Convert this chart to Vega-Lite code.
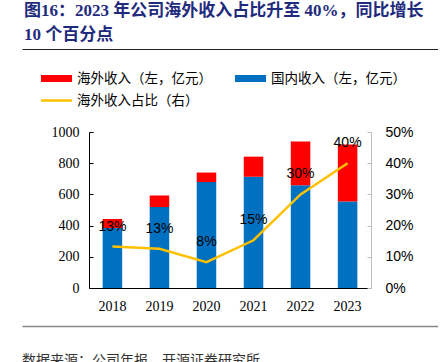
{
  "$schema": "https://vega.github.io/schema/vega-lite/v6.json",
  "padding": {"left": 22, "top": 2, "right": 0, "bottom": 0},
  "background": "#ffffff",
  "config": {"view": {"stroke": null}, "axis": {"grid": false}},
  "datasets": {
    "bars": [
      {"year": "2018", "series": "国内收入（左，亿元）", "value": 385},
      {"year": "2018", "series": "海外收入（左，亿元）", "value": 58},
      {"year": "2019", "series": "国内收入（左，亿元）", "value": 519},
      {"year": "2019", "series": "海外收入（左，亿元）", "value": 74},
      {"year": "2020", "series": "国内收入（左，亿元）", "value": 679},
      {"year": "2020", "series": "海外收入（左，亿元）", "value": 61},
      {"year": "2021", "series": "国内收入（左，亿元）", "value": 713},
      {"year": "2021", "series": "海外收入（左，亿元）", "value": 129},
      {"year": "2022", "series": "国内收入（左，亿元）", "value": 658},
      {"year": "2022", "series": "海外收入（左，亿元）", "value": 281},
      {"year": "2023", "series": "国内收入（左，亿元）", "value": 555},
      {"year": "2023", "series": "海外收入（左，亿元）", "value": 365}
    ],
    "share": [
      {"year": "2018", "share": 0.133},
      {"year": "2019", "share": 0.126},
      {"year": "2020", "share": 0.083},
      {"year": "2021", "share": 0.153},
      {"year": "2022", "share": 0.300},
      {"year": "2023", "share": 0.400}
    ]
  },
  "vconcat": [
    {
      "width": 416,
      "height": 45,
      "title": {
        "text": ["图16：2023 年公司海外收入占比升至 40%，同比增长", "10 个百分点"],
        "anchor": "start",
        "frame": "group",
        "font": "Liberation Serif, Noto Sans CJK SC",
        "fontSize": 17,
        "fontWeight": "bold",
        "color": "#1F2B7D",
        "lineHeight": 24,
        "offset": 5,
        "dx": 2
      },
      "data": {"values": [{"v": 0}]},
      "mark": {"type": "text", "text": ""},
      "encoding": {
        "x": {"field": "v", "type": "quantitative", "scale": {"domain": [0, 1]},
          "axis": {"orient": "top", "labels": false, "ticks": false, "grid": false, "title": null, "domain": true, "domainColor": "#222222", "domainWidth": 1}}
      }
    },
    {
      "width": 282,
      "height": 156,
      "layer": [
        {
          "data": {"name": "bars"},
          "mark": {"type": "bar"},
          "encoding": {
            "x": {"field": "year", "type": "ordinal",
              "scale": {"paddingInner": 0.585, "paddingOuter": 0.29},
              "axis": {"title": null, "labelAngle": 0, "labelFont": "Liberation Serif", "labelFontSize": 14, "labelColor": "#000000", "ticks": false, "domainColor": "#000000", "labelPadding": 11}},
            "y": {"field": "value", "type": "quantitative", "stack": "zero",
              "scale": {"domain": [0, 1000]},
              "axis": {"title": null, "orient": "left", "format": "d", "values": [0, 200, 400, 600, 800, 1000], "labelFont": "Liberation Serif", "labelFontSize": 14, "labelColor": "#000000", "domainColor": "#000000", "tickColor": "#000000", "tickSize": -4, "labelPadding": 14}},
            "color": {"field": "series", "type": "nominal",
              "scale": {"domain": ["海外收入（左，亿元）", "国内收入（左，亿元）", "海外收入占比（右）"], "range": ["#FF0000", "#0070C0", "#FFC000"]},
              "legend": {
                "title": null, "orient": "none", "legendX": 27, "legendY": 22, "columns": 2, "direction": "horizontal", "padding": 0,
                "symbolSize": 225, "labelFont": "Noto Sans CJK SC", "labelFontSize": 13.5, "labelColor": "#000000",
                "columnPadding": 22, "rowPadding": 8, "labelOffset": 13, "symbolStrokeWidth": 0, "symbolOpacity": 1,
                "encode": {"symbols": {"update": {
                  "shape": {"signal": "datum.label === '海外收入占比（右）' ? 'M-2.07,-0.16H2.07V0.16H-2.07Z' : 'M-2.07,-0.47H2.07V0.47H-2.07Z'"},
                  "fill": {"scale": "color", "field": "value"},
                  "strokeWidth": {"value": 0},
                  "opacity": {"value": 1}
                }}}
              }},
            "order": {"field": "series", "sort": "ascending"}
          }
        },
        {
          "data": {"name": "share"},
          "mark": {"type": "line", "strokeWidth": 2.5},
          "encoding": {
            "x": {"field": "year", "type": "ordinal"},
            "y": {"field": "share", "type": "quantitative", "scale": {"domain": [0, 0.5]},
              "axis": {"title": null, "orient": "right", "format": ".0%", "values": [0, 0.1, 0.2, 0.3, 0.4, 0.5], "labelFont": "Liberation Sans", "labelFontSize": 14, "labelColor": "#000000", "domainColor": "#BFBFBF", "tickColor": "#BFBFBF", "tickSize": -4, "labelPadding": 18}},
            "color": {"datum": "海外收入占比（右）"}
          }
        },
        {
          "data": {"name": "share"},
          "mark": {"type": "text", "dy": -20, "font": "Liberation Sans", "fontSize": 14, "color": "#000000"},
          "encoding": {
            "x": {"field": "year", "type": "ordinal"},
            "y": {"field": "share", "type": "quantitative", "scale": {"domain": [0, 0.5]}, "axis": null},
            "text": {"field": "share", "type": "quantitative", "format": ".0%"}
          }
        }
      ],
      "resolve": {"scale": {"y": "independent"}, "axis": {"y": "independent"}}
    },
    {
      "width": 416,
      "height": 0,
      "title": {
        "text": "数据来源：公司年报、开源证券研究所",
        "orient": "bottom",
        "anchor": "start",
        "frame": "group",
        "font": "Noto Sans CJK SC",
        "fontSize": 14,
        "fontWeight": "normal",
        "color": "#333333",
        "offset": 8
      },
      "data": {"values": [{"v": 0}]},
      "mark": {"type": "text", "text": ""},
      "encoding": {
        "x": {"field": "v", "type": "quantitative", "scale": {"domain": [0, 1]},
          "axis": {"orient": "top", "labels": false, "ticks": false, "grid": false, "title": null, "domainColor": "#888888", "domainWidth": 1.5}}
      }
    }
  ],
  "spacing": 38,
  "bounds": "flush",
  "center": true
}
